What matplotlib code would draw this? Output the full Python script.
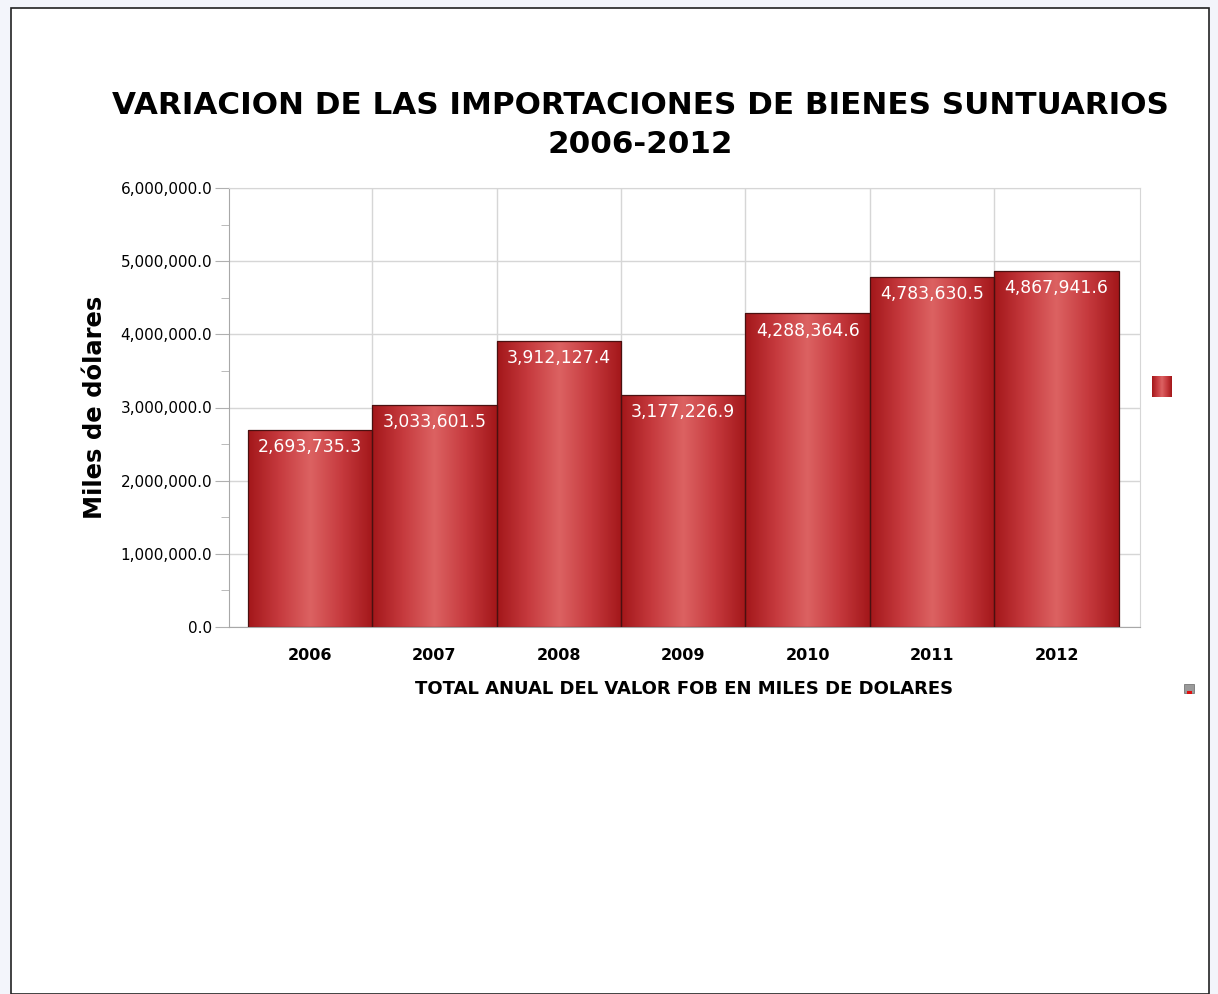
import numpy as np
import matplotlib
matplotlib.use("Agg")
import matplotlib.pyplot as plt
from matplotlib.patches import Rectangle
from matplotlib.colors import LinearSegmentedColormap
from matplotlib.ticker import FuncFormatter, MultipleLocator

years = ["2006", "2007", "2008", "2009", "2010", "2011", "2012"]
values = [2693735.3, 3033601.5, 3912127.4, 3177226.9, 4288364.6, 4783630.5, 4867941.6]
title = "VARIACION DE LAS IMPORTACIONES DE BIENES SUNTUARIOS\n2006-2012"
ylabel = "Miles de dólares"
xlabel = "TOTAL ANUAL DEL VALOR FOB EN MILES DE DOLARES"

W, H = 1218, 994
fig = plt.figure(figsize=(W / 100, H / 100), dpi=100)
fig.patch.set_facecolor("#f3f5fb")
# page
fig.patches.append(Rectangle((11 / W, 0), (1209 - 11) / W, (H - 8) / H, transform=fig.transFigure,
                             facecolor="white", edgecolor="#222222", lw=1.2, zorder=-5))

ax = fig.add_axes([229 / W, 1 - 627 / H, (1140 - 229) / W, (627 - 188) / H])
ax.set_facecolor("none")
x = np.arange(len(years))

cmap = LinearSegmentedColormap.from_list("g", ["#a3171a", "#c63a3e", "#dc6262", "#c63a3e", "#a3171a"])
grad = np.linspace(0, 1, 256).reshape(1, -1)
bars = ax.bar(x, values, width=1.0, facecolor="none", edgecolor="#4a1010", lw=0.9, zorder=3)
for b in bars:
    x0, y0 = b.get_x(), b.get_y()
    w, h = b.get_width(), b.get_height()
    im = ax.imshow(grad, extent=[x0, x0 + w, y0, y0 + h], aspect="auto", cmap=cmap, zorder=2)
    im.set_clip_path(b)
ax.set_xlim(-0.65, 6.67)
ax.set_ylim(0, 6000000)
for xi, v in zip(x, values):
    ax.annotate(f"{v:,.1f}", (xi, v), xytext=(0, -6), textcoords="offset points",
                ha="center", va="top", color="white", fontsize=12.4, zorder=4)

ax.yaxis.set_major_locator(MultipleLocator(1000000))
ax.yaxis.set_minor_locator(MultipleLocator(500000))
ax.yaxis.set_major_formatter(FuncFormatter(lambda v, p: f"{v:,.1f}"))
ax.set_xticks(x)
ax.set_xticklabels(years, fontsize=11.5, fontweight="bold")
ax.set_xticks(np.arange(0.5, 6, 1), minor=True)
ax.tick_params(axis="x", which="both", length=0, pad=15)
ax.tick_params(axis="y", which="major", length=10, color="#b0b0b0", labelsize=11, pad=2)
ax.tick_params(axis="y", which="minor", length=6, color="#b0b0b0")
ax.grid(axis="y", which="major", color="#d6d6d6", lw=1, zorder=0)
ax.grid(axis="x", which="minor", color="#d6d6d6", lw=1, zorder=0)
ax.set_axisbelow(True)
for s in ["top", "right"]:
    ax.spines[s].set_color("#d6d6d6")
for s in ["left", "bottom"]:
    ax.spines[s].set_color("#a8a8a8")

ax.set_ylabel(ylabel, fontsize=17.5, fontweight="bold", labelpad=10)
ax.set_xlabel(xlabel, fontsize=13, fontweight="bold", labelpad=12)
fig.text(640 / W, 1 - 125 / H, title, ha="center", va="center", fontsize=22.3,
         fontweight="bold", linespacing=1.45)

# legend swatch
lax = fig.add_axes([1152 / W, 1 - 397 / H, 20 / W, 21 / H])
lax.imshow(grad, aspect="auto", cmap=cmap, extent=[0, 1, 0, 1])
lax.set_axis_off()

# small export icon
fig.patches.append(Rectangle((1184 / W, 1 - 693 / H), 10 / W, 9 / H, transform=fig.transFigure,
                             facecolor="#9a9a9a", edgecolor="#666666", lw=0.5))
fig.patches.append(Rectangle((1187 / W, 1 - 694 / H), 5 / W, 3 / H, transform=fig.transFigure,
                             facecolor="#e01010", edgecolor="none"))

fig.savefig("out.png", dpi=100, facecolor=fig.get_facecolor())
